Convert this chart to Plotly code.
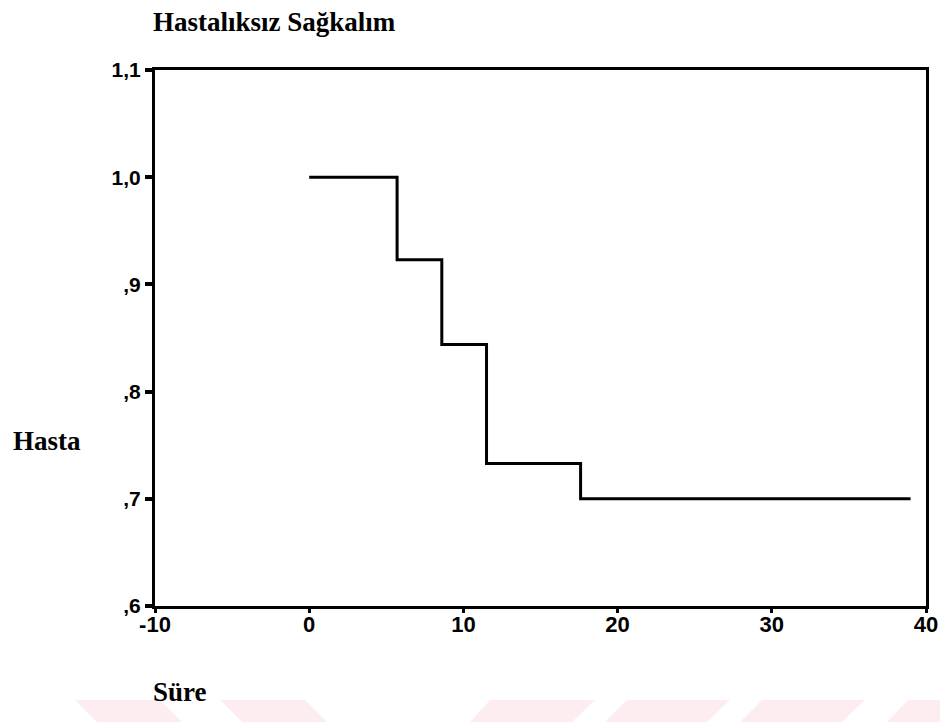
import plotly.graph_objects as go

# Data (Kaplan-Meier style step curve)
sure = [0, 5.7, 8.6, 11.5, 17.6, 39]
sagkalim = [1.0, 0.923, 0.844, 0.733, 0.70, 0.70]

x_tickvals = [-10, 0, 10, 20, 30, 40]
x_ticktext = ["-10", "0", "10", "20", "30", "40"]
y_tickvals = [0.6, 0.7, 0.8, 0.9, 1.0, 1.1]
y_ticktext = [",6", ",7", ",8", ",9", "1,0", "1,1"]

title_text = "Hastalıksız Sağkalım"
y_label = "Hasta"
x_label = "Süre"

W, H = 940, 722
L, R, T, B = 155, 14, 70, 116
PW, PH = W - L - R, H - T - B


def px(x):
    return (x - L) / PW


def py(y):
    return (H - B - y) / PH


fig = go.Figure()
fig.add_trace(go.Scatter(
    x=sure, y=sagkalim, mode="lines", line_shape="hv",
    line=dict(color="black", width=3), showlegend=False, hoverinfo="skip"))

# faint watermark stripes at the bottom
stripes = [
    [(75, 700), (160, 700), (182, 722), (97, 722)],
    [(220, 700), (305, 700), (327, 722), (242, 722)],
    [(490, 700), (595, 700), (572, 722), (470, 722)],
    [(627, 700), (730, 700), (707, 722), (605, 722)],
    [(762, 700), (865, 700), (842, 722), (740, 722)],
    [(908, 700), (940, 700), (940, 722), (887, 722)],
]
shapes = []
for poly in stripes:
    path = "M " + " L ".join(f"{px(a):.5f},{py(b):.5f}" for a, b in poly) + " Z"
    shapes.append(dict(type="path", xref="paper", yref="paper", path=path,
                       fillcolor="#fdedf0", line=dict(width=0), layer="below"))

serif = "Liberation Serif, Times New Roman, serif"
afont = dict(family=serif, size=27, color="black", weight="bold")
annotations = [
    dict(text=title_text, xref="paper", yref="paper", x=px(151), y=py(39),
         xanchor="left", yanchor="bottom", showarrow=False, font=afont),
    dict(text=y_label, xref="paper", yref="paper", x=px(11), y=py(441),
         xanchor="left", yanchor="middle", showarrow=False, font=afont),
    dict(text=x_label, xref="paper", yref="paper", x=px(151), y=py(692),
         xanchor="left", yanchor="middle", showarrow=False, font=afont),
]

xtickfont = dict(family="Liberation Sans, Arial, sans-serif", size=22, color="black", weight="bold")
ytickfont = dict(family="Liberation Sans, Arial, sans-serif", size=21, color="black", weight="bold")

fig.update_layout(
    width=W, height=H,
    margin=dict(l=L, r=R, t=T, b=B, pad=0, autoexpand=False),
    paper_bgcolor="white", plot_bgcolor="white",
    shapes=shapes, annotations=annotations,
    xaxis=dict(range=[-10, 40], tickvals=x_tickvals, ticktext=x_ticktext,
               showgrid=False, zeroline=False, showline=True, linecolor="black",
               linewidth=3, mirror=True, ticks="outside", ticklen=4, tickwidth=3,
               tickcolor="black", tickfont=xtickfont, automargin=False,
               ticklabelstandoff=-7),
    yaxis=dict(range=[0.6, 1.1], tickvals=y_tickvals, ticktext=y_ticktext,
               showgrid=False, zeroline=False, showline=True, linecolor="black",
               linewidth=3, mirror=True, ticks="outside", ticklen=7, tickwidth=4,
               tickcolor="black", tickfont=ytickfont, automargin=False),
)

fig.write_html("out.html")
